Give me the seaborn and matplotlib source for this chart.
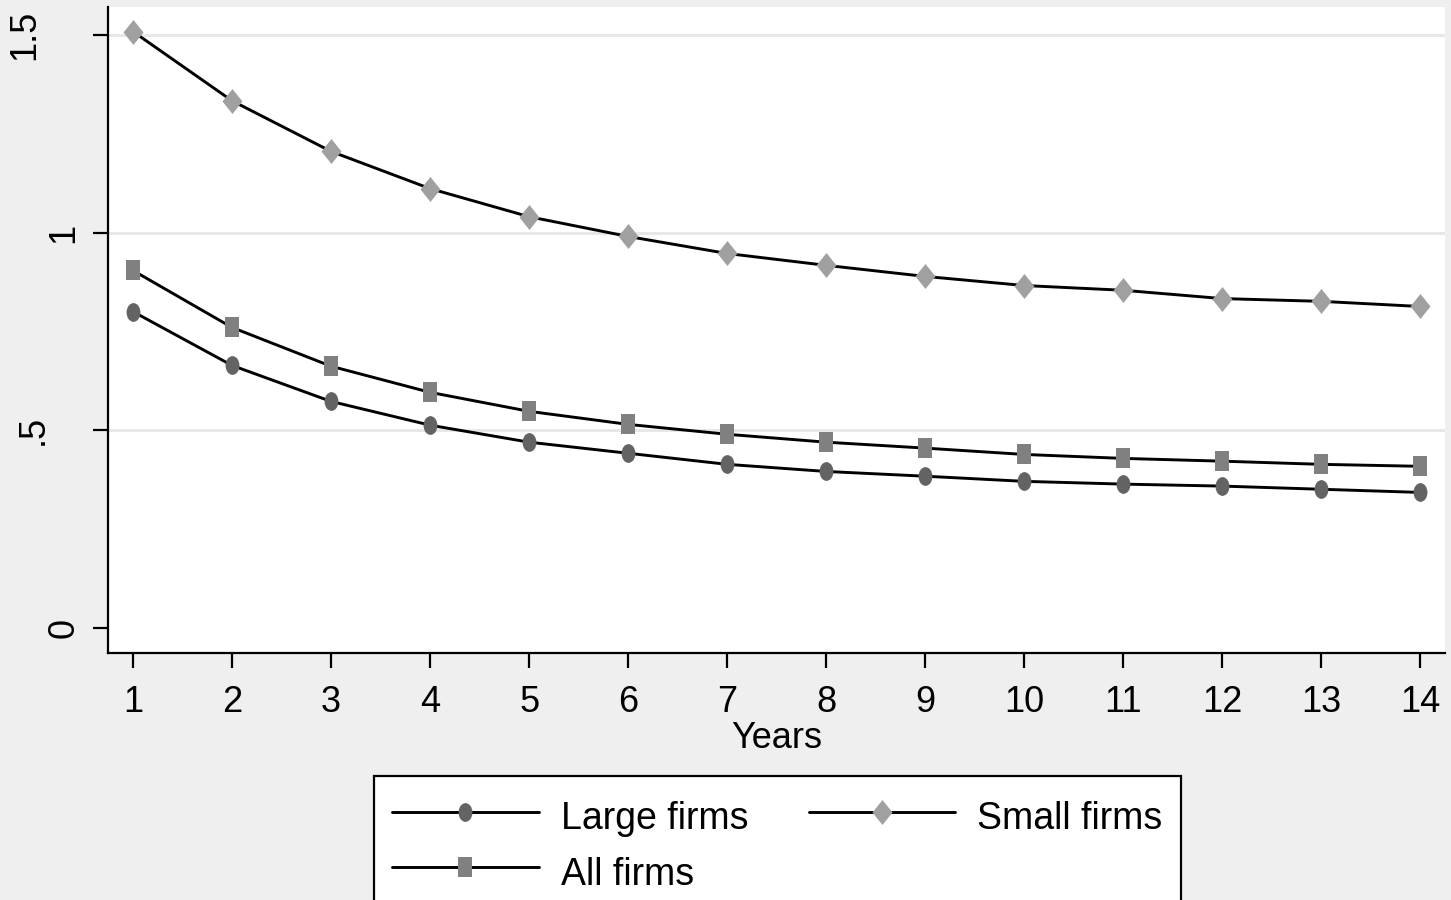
import numpy as np
import pandas as pd
import matplotlib
matplotlib.use("Agg")
import matplotlib.pyplot as plt
import matplotlib.transforms as mtransforms
from matplotlib.path import Path
import seaborn as sns

# values
years = list(range(1, 15))
large_firms = [0.800, 0.664, 0.573, 0.513, 0.470, 0.442, 0.414, 0.396, 0.384, 0.371, 0.364, 0.359, 0.351, 0.343]
small_firms = [1.508, 1.333, 1.205, 1.111, 1.040, 0.990, 0.947, 0.917, 0.889, 0.866, 0.854, 0.833, 0.826, 0.813]
all_firms = [0.904, 0.760, 0.662, 0.596, 0.548, 0.515, 0.490, 0.470, 0.455, 0.439, 0.429, 0.422, 0.414, 0.409]
series_names = ["Large firms", "Small firms", "All firms"]
y_ticks = [0, 0.5, 1, 1.5]
y_ticklabels = ["0", ".5", "1", "1.5"]

df = pd.DataFrame({
    "Years": years * 3,
    "value": large_firms + small_firms + all_firms,
    "series": np.repeat(series_names, len(years)),
})

sns.set_style("white")
plt.rcParams["font.family"] = ["Liberation Sans", "DejaVu Sans"]
for key in ["text.color", "axes.labelcolor", "xtick.color", "ytick.color"]:
    plt.rcParams[key] = "black"
bg = "#efefef"

# Stata-like markers, a little taller than wide
ellipse = Path.unit_circle().transformed(mtransforms.Affine2D().scale(0.74, 1.0))
tall_square = Path([(-0.7, -1), (0.7, -1), (0.7, 1), (-0.7, 1), (-0.7, -1)],
                   [Path.MOVETO, Path.LINETO, Path.LINETO, Path.LINETO, Path.CLOSEPOLY])
tall_diamond = Path([(0, 1), (0.8, 0), (0, -1), (-0.8, 0), (0, 1)],
                    [Path.MOVETO, Path.LINETO, Path.LINETO, Path.LINETO, Path.CLOSEPOLY])

styles = {
    "Large firms": dict(marker=ellipse, color="#636363", ms=13.5),
    "Small firms": dict(marker=tall_diamond, color="#a0a0a0", ms=18),
    "All firms": dict(marker=tall_square, color="#808080", ms=14.5),
}

fig = plt.figure(figsize=(14.51, 9), dpi=100, facecolor=bg)
ax = fig.add_axes([0.0744, 0.2744, 0.9215, 0.7178])
ax.set_facecolor("white")

for name in series_names:
    st = styles[name]
    sns.lineplot(data=df[df["series"] == name], x="Years", y="value", ax=ax,
                 color="black", linewidth=2.1, marker=st["marker"],
                 markersize=st["ms"], markerfacecolor=st["color"],
                 markeredgecolor=st["color"], markeredgewidth=0,
                 label=name)

ax.set_xlim(0.747, 14.25)
ax.set_ylim(-0.063, 1.57)
ax.set_xticks(years)
ax.set_yticks(y_ticks)
ax.set_yticklabels(y_ticklabels, rotation=90, va="center")
ax.set_xlabel("Years", fontsize=26, labelpad=1)
ax.set_ylabel("")
ax.tick_params(axis="both", labelsize=26, length=11, width=1.6,
               direction="out", left=True, bottom=True)
ax.tick_params(axis="x", pad=12)
ax.tick_params(axis="y", pad=8)

# Stata places the rotated labels at uneven distances from the axis
label_shift = {"0": 0, ".5": -22, "1": 0, "1.5": -28}
for lab in ax.get_yticklabels():
    dx = label_shift.get(lab.get_text(), 0)
    lab.set_transform(lab.get_transform() +
                      mtransforms.ScaledTranslation(dx / 72, 0, fig.dpi_scale_trans))

ax.yaxis.grid(True, color="#e6e6e6", linewidth=2)
ax.xaxis.grid(False)
ax.get_ygridlines()[0].set_visible(False)
ax.set_axisbelow(True)

for side in ["top", "right"]:
    ax.spines[side].set_visible(False)
for side in ["left", "bottom"]:
    ax.spines[side].set_color("black")
    ax.spines[side].set_linewidth(1.6)

handles, labels = ax.get_legend_handles_labels()
ax.get_legend().remove()
order = [labels.index("Large firms"), labels.index("All firms"), labels.index("Small firms")]
leg = fig.legend([handles[i] for i in order], [labels[i] for i in order],
                 loc="upper center", bbox_to_anchor=(0.5358, 0.1378), ncol=2,
                 fontsize=27, frameon=True, fancybox=False, framealpha=1,
                 edgecolor="black", handlelength=3.9, handletextpad=0.6,
                 handleheight=1.4, columnspacing=1.6, labelspacing=0.33,
                 borderpad=0.5, borderaxespad=0)
leg.get_frame().set_linewidth(1.6)

fig.savefig("out.png", dpi=100, facecolor=bg)
